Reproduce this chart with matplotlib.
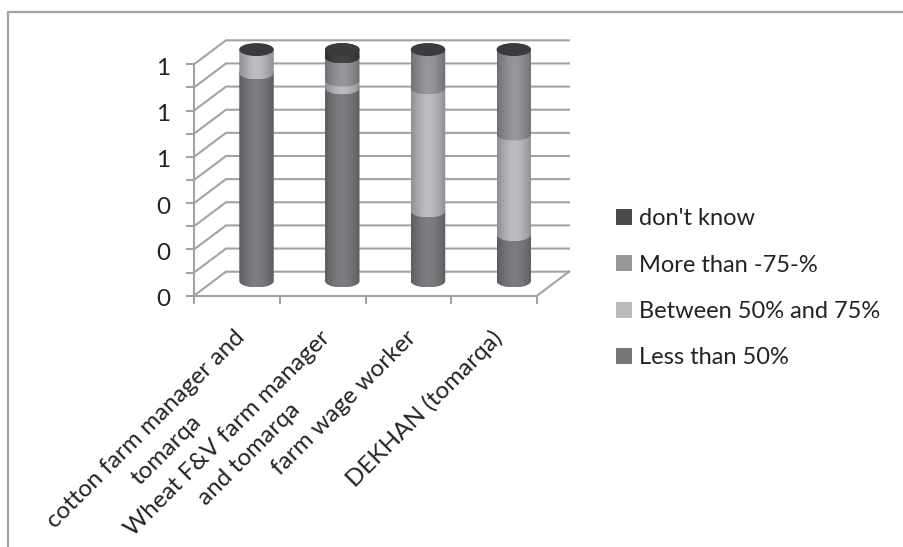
import numpy as np
from matplotlib import pyplot as plt
from matplotlib.lines import Line2D
from matplotlib.patches import Ellipse, Patch, PathPatch
from matplotlib.path import Path
from matplotlib.ticker import FuncFormatter, MultipleLocator
from matplotlib.transforms import ScaledTranslation

categories = ["cotton farm manager and\ntomarqa", "Wheat F&V farm manager\nand tomarqa",
              "farm wage worker", "DEKHAN (tomarqa)"]
less_than_50 = [0.899, 0.834, 0.3025, 0.200]
between_50_75 = [0.101, 0.034, 0.5315, 0.435]
more_than_75 = [0.0, 0.100, 0.166, 0.365]
dont_know = [0.0, 0.032, 0.0, 0.0]

series_names = ["Less than 50%", "Between 50% and 75%", "More than -75-%", "don't know"]
series_values = [less_than_50, between_50_75, more_than_75, dont_know]
edge_colors = ["#5c5d5f", "#8d8e92", "#6e6f72", "#2f2f30"]
mid_colors = ["#7d7e82", "#bdbec2", "#97989c", "#434345"]
legend_colors = ["#78787c", "#b9babc", "#98989c", "#4b4b4d"]
GREY = "#a3a3a6"
TEXT = "#232323"

W, H = 904, 547
plt.rcParams["font.family"] = ["Lato", "DejaVu Sans"]

fig = plt.figure(figsize=(W / 100, H / 100), dpi=100)
ax = fig.add_axes([194 / W, 1 - 295.7 / H, 343 / W, 231.4 / H])
ax.set_xlim(0, 4)
ax.set_ylim(0, 1)
ax.patch.set_visible(False)

# oblique offset of the back wall and of the bars, in data units
depth_x, depth_y = 32 / 85.75, 24 / 231.4
bar_x, bar_y = 0.229, 0.0635
half_w, half_h = 0.201, 0.028


def lerp_color(c1, c2, t):
    a = np.array(plt.matplotlib.colors.to_rgb(c1))
    b = np.array(plt.matplotlib.colors.to_rgb(c2))
    return a + (b - a) * t


def shade(c1, c2):
    t = 1 - np.abs(np.linspace(-1, 1, 64)) ** 1.6
    return np.array([lerp_color(c1, c2, v) for v in t])[None, :, :]


def segment_path(cx, y0, y1):
    # side walls with a rounded front edge along the bottom
    n = 40
    ang = np.linspace(np.pi, 2 * np.pi, n)
    low = np.column_stack([cx + half_w * np.cos(ang), y0 + half_h * np.sin(ang)])
    ang = np.linspace(0, np.pi, n)
    up = np.column_stack([cx + half_w * np.cos(ang), y1 + half_h * np.sin(ang)])
    return Path(np.vstack([low, up, low[:1]]))


# wall gridlines and floor
for v in np.arange(0, 1.01, 0.1):
    ax.plot([0, depth_x, 4 + depth_x], [v, v + depth_y, v + depth_y], color=GREY, lw=1.5,
            clip_on=False, zorder=1, solid_joinstyle="miter")
ax.plot([4, 4 + depth_x], [0, depth_y], color=GREY, lw=1.5, clip_on=False, zorder=1)

# stacked cylinders, painted bottom up so each lower edge overlaps the one beneath
for i in range(len(categories)):
    cx = i + 0.5 + bar_x
    base = bar_y
    for s, vals in enumerate(series_values):
        if vals[i] > 0:
            top = base + vals[i]
            seg = PathPatch(segment_path(cx, base, top), transform=ax.transData, fc="none", ec="none")
            ax.add_patch(seg)
            seg.set_clip_on(False)
            im = ax.imshow(shade(edge_colors[s], mid_colors[s]), aspect="auto", zorder=3 + s,
                           extent=[cx - half_w, cx + half_w, base - half_h, top + half_h],
                           interpolation="bilinear")
            im.set_clip_box(fig.bbox)
            im.set_clip_path(seg)
            base = top
    ax.add_patch(Ellipse((cx, base), 2 * half_w, 2 * half_h, fc="#3b3b3d", ec="none",
                         zorder=8, clip_on=False))

ax.set_xlim(0, 4)
ax.set_ylim(0, 1)

for side in ["top", "right"]:
    ax.spines[side].set_visible(False)
for side in ["left", "bottom"]:
    ax.spines[side].set_color(GREY)
    ax.spines[side].set_linewidth(1.5)

ax.yaxis.set_major_locator(MultipleLocator(0.2))
ax.yaxis.set_minor_locator(MultipleLocator(0.1))
ax.yaxis.set_major_formatter(FuncFormatter(lambda v, pos: "%.0f" % v))
ax.tick_params(axis="y", which="both", length=5.8, width=1.5, color=GREY)
ax.tick_params(axis="y", which="major", labelsize=17.5, labelcolor=TEXT, pad=11.5)
ydown = ScaledTranslation(0, -2 / 100, fig.dpi_scale_trans)
for lab in ax.get_yticklabels():
    lab.set_transform(lab.get_transform() + ydown)

ax.set_xticks([0, 1, 2, 3, 4])
ax.set_xticklabels([])
ax.tick_params(axis="x", which="major", length=5.8, width=1.5, color=GREY)
ax.set_xticks([0.5, 1.5, 2.5, 3.5], labels=categories, minor=True)
ax.tick_params(axis="x", which="minor", length=0, labelsize=17.5, labelcolor=TEXT, pad=0)
shift = ScaledTranslation(-3 / 100, -31 / 100, fig.dpi_scale_trans)
for lab in ax.get_xticklabels(minor=True):
    lab.set_rotation(45)
    lab.set_ha("right")
    lab.set_va("top")
    lab.set_rotation_mode("anchor")
    lab.set_multialignment("center")
    lab.set_linespacing(1.5)
    lab.set_transform(lab.get_transform() + shift)

handles = [Patch(fc=c, ec="none") for c in legend_colors[::-1]]
leg = fig.legend(handles, series_names[::-1], loc="upper left", bbox_to_anchor=(616 / W, 1 - 208 / H),
                 frameon=False, fontsize=17, labelcolor=TEXT, handlelength=0.68, handleheight=0.68,
                 handletextpad=0.3, labelspacing=1.08, borderpad=0, borderaxespad=0)

# chart-area border, open on the right and bottom
fig.add_artist(Line2D([7.5 / W, 7.5 / W, 1], [0, 1 - 11.5 / H, 1 - 11.5 / H], color=GREY, lw=1.6))

fig.savefig("out.png", dpi=100)
